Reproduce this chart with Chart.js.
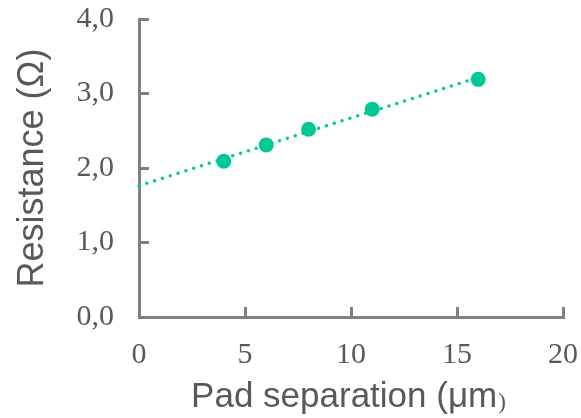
<!DOCTYPE html>
<html>
<head>
<meta charset="utf-8">
<script src="https://cdn.jsdelivr.net/npm/chart.js@4"></script>
<style>
    html, body { margin: 0; padding: 0; background: #fff; }
    .chartBox { width: 581px; height: 418px; position: relative; }
</style>
</head>
<body>
<div class="chartBox"><canvas id="dataChart"></canvas></div>
<script>
// measured values
const padSeparation = [4, 6, 8, 11, 16];
const resistance = [2.09, 2.31, 2.52, 2.79, 3.19];

// axis tick labels (comma decimals)
const xTickLabels = ['0', '5', '10', '15', '20'];
const yTickLabels = ['0,0', '1,0', '2,0', '3,0', '4,0'];

const green = '#00C896';
const axisGrey = '#808080';
const textGrey = '#595959';

// linear least-squares fit, drawn from x = 0 to the last point
const fitLine = (xs, ys) => {
    const n = xs.length;
    const mx = xs.reduce((a, b) => a + b, 0) / n;
    const my = ys.reduce((a, b) => a + b, 0) / n;
    let sxy = 0, sxx = 0;
    xs.forEach((x, i) => { sxy += (x - mx) * (ys[i] - my); sxx += (x - mx) * (x - mx); });
    const slope = sxy / sxx;
    const icept = my - slope * mx;
    const xEnd = Math.max(...xs);
    return [{ x: 0, y: icept }, { x: xEnd, y: icept + slope * xEnd }];
};

// x title has a small serif closing bracket, so it is drawn by hand
const xTitlePlugin = {
    id: 'xTitle',
    afterDraw(chart) {
        const { ctx, chartArea } = chart;
        const main = 'Pad separation (μm';
        const close = ')';
        const mainFont = '35px "Liberation Sans", Arial, sans-serif';
        const closeFont = '23px "Liberation Serif", "Times New Roman", serif';
        ctx.save();
        ctx.fillStyle = textGrey;
        ctx.textAlign = 'left';
        ctx.textBaseline = 'alphabetic';
        ctx.font = mainFont;
        const w1 = ctx.measureText(main).width;
        ctx.font = closeFont;
        const w2 = ctx.measureText(close).width;
        const x0 = (chartArea.left + chartArea.right) / 2 - (w1 + w2) / 2 - 3;
        const y = chartArea.bottom + 90;
        ctx.font = mainFont;
        ctx.fillText(main, x0, y);
        ctx.font = closeFont;
        ctx.fillText(close, x0 + w1 + 1, y + 2);
        ctx.restore();
    }
};

const tickFont = { family: '"Liberation Serif", "Times New Roman", serif', size: 30 };

// keep the plot box fixed: no extra room for overhanging tick labels
const fixX = scale => {
    scale.height = 101;
    scale.paddingLeft = 0;
    scale.paddingRight = 0;
};
const fixY = scale => {
    scale.width = 139;
    scale.paddingTop = 0;
    scale.paddingBottom = 0;
};

let ctx = document.getElementById('dataChart').getContext('2d');
let chartObj = new Chart(ctx, {
    type: 'scatter',
    data: {
        datasets: [{
            label: 'Resistance',
            data: padSeparation.map((x, i) => ({ x, y: resistance[i] })),
            backgroundColor: green,
            borderWidth: 0,
            pointRadius: 7.5,
            order: 1,
        }, {
            label: 'Linear fit',
            type: 'line',
            data: fitLine(padSeparation, resistance),
            borderColor: green,
            borderWidth: 3.5,
            borderDash: [0, 8.2],
            borderCapStyle: 'round',
            pointRadius: 0,
            fill: false,
            clip: false,
            order: 2,
        }]
    },
    options: {
        responsive: true,
        maintainAspectRatio: false,
        animation: false,
        layout: { padding: { top: 19, right: 18, left: 0, bottom: 0 } },
        plugins: {
            legend: { display: false },
            tooltip: { enabled: false },
        },
        scales: {
            x: {
                type: 'linear',
                min: 0,
                max: 20,
                afterFit: fixX,
                border: { display: true, color: axisGrey, width: 3 },
                grid: { drawOnChartArea: false, drawTicks: true, tickLength: -10, color: axisGrey, lineWidth: 3 },
                ticks: {
                    stepSize: 5,
                    padding: 30,
                    color: textGrey,
                    font: tickFont,
                    maxRotation: 0,
                    callback: (v, i) => xTickLabels[i],
                },
                title: { display: false },
            },
            y: {
                min: 0,
                max: 4,
                afterFit: fixY,
                border: { display: true, color: axisGrey, width: 3 },
                grid: { drawOnChartArea: false, drawTicks: true, tickLength: -10, color: axisGrey, lineWidth: 3 },
                ticks: {
                    stepSize: 1,
                    padding: 35,
                    color: textGrey,
                    font: tickFont,
                    callback: (v, i) => yTickLabels[i],
                },
                title: {
                    display: true,
                    text: 'Resistance (Ω)',
                    color: textGrey,
                    font: { family: '"Liberation Sans", Arial, sans-serif', size: 36 },
                    padding: { top: 11, bottom: 0 },
                },
            }
        }
    },
    plugins: [xTitlePlugin]
});
</script>
</body>
</html>
